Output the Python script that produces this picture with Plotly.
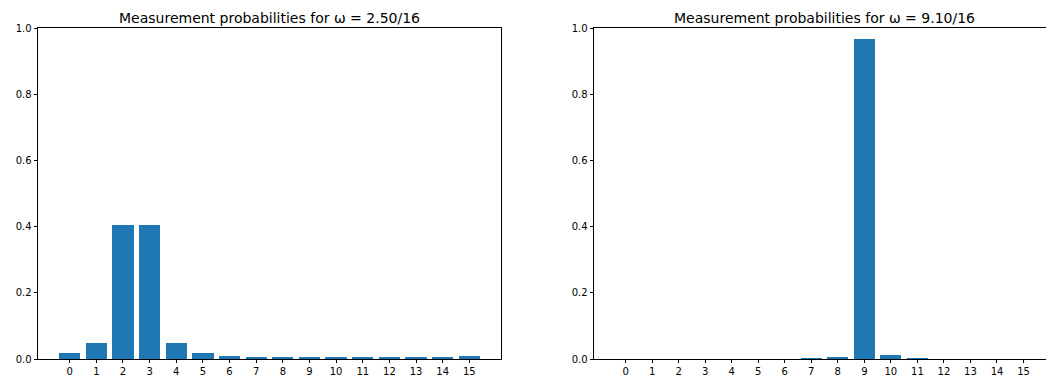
import plotly.graph_objects as go
from plotly.subplots import make_subplots

states = list(range(16))
tick_labels = [str(s) for s in states]
probs_left = [0.018, 0.047, 0.406, 0.406, 0.047, 0.018, 0.010, 0.007,
              0.005, 0.004, 0.004, 0.004, 0.004, 0.005, 0.007, 0.010]
probs_right = [0.0, 0.0, 0.0, 0.0, 0.0, 0.0, 0.0, 0.0025,
               0.007, 0.968, 0.012, 0.003, 0.0, 0.0, 0.0, 0.0]
titles = ["Measurement probabilities for ω = 2.50/16",
          "Measurement probabilities for ω = 9.10/16"]
y_ticks = [0.0, 0.2, 0.4, 0.6, 0.8, 1.0]

# page has an 8px body margin; figure sized so it fits the 1054x383 window
W, H = 1046, 375
fig = make_subplots(rows=1, cols=2)
color = "#1f77b4"
for i, p in enumerate([probs_left, probs_right], start=1):
    fig.add_trace(go.Bar(x=states, y=p, width=0.8, marker_color=color,
                         marker_line_width=0, showlegend=False), row=1, col=i)

font = dict(family="DejaVu Sans", size=10, color="black")
axis_common = dict(showline=True, linecolor="black", linewidth=0.8, mirror=True,
                   ticks="outside", ticklen=3.5, tickwidth=0.8, tickcolor="black",
                   showgrid=False, zeroline=False, tickfont=font)

# pixel layout (figure coords)
left_px = (30.0, 493.0)
right_px = (586.0, 1046.0)
ranges = [[-1.19, 16.19], [-1.19, -1.19 + (right_px[1] - right_px[0]) / 26.53]]
domains = [(left_px[0] / W, left_px[1] / W), (right_px[0] / W, right_px[1] / W)]
for i, (d0, d1) in enumerate(domains, start=1):
    xa = "xaxis" if i == 1 else "xaxis2"
    ya = "yaxis" if i == 1 else "yaxis2"
    fig.layout[xa].update(domain=[d0, d1], range=ranges[i - 1], tickmode="array",
                          tickvals=states, ticktext=tick_labels, **axis_common)
    fig.layout[ya].update(range=[0, 1], tickmode="array", tickvals=y_ticks,
                          ticktext=[f"{v:.1f}" for v in y_ticks], **axis_common)

centers = [(30.0 + 493.0) / 2 / W, (586.0 + 1047.6) / 2 / W]
for i, t in enumerate(titles):
    fig.add_annotation(text=t, x=centers[i], y=1, xref="paper", yref="paper",
                       xanchor="center", yanchor="bottom", yshift=0, showarrow=False,
                       font=dict(family="DejaVu Sans", size=14, color="black"))

fig.update_layout(width=W, height=H, margin=dict(l=0, r=0, t=19.5, b=24),
                  plot_bgcolor="white", paper_bgcolor="white", bargap=0)
fig.write_html("out.html")
